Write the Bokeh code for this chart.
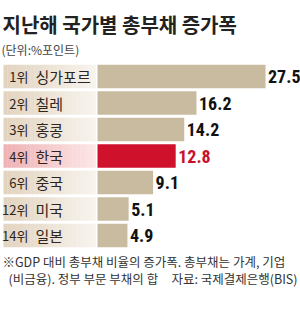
from bokeh.plotting import figure
from bokeh.models import Range1d, ColumnDataSource
from bokeh.core.properties import value
from bokeh.embed import file_html
from bokeh.resources import INLINE

# ---- data ----
ranks = ["1위", "2위", "3위", "4위", "6위", "12위", "14위"]
countries = ["싱가포르", "칠레", "홍콩", "한국", "중국", "미국", "일본"]
values = [27.5, 16.2, 14.2, 12.8, 9.1, 5.1, 4.9]
value_labels = ["27.5", "16.2", "14.2", "12.8", "9.1", "5.1", "4.9"]
highlight = "한국"

title_text = "지난해 국가별 총부채 증가폭"
subtitle_text = "(단위:%포인트)"
note_line1 = "※GDP 대비 총부채 비율의 증가폭. 총부채는 가계, 기업"
note_line2 = "(비금융). 정부 부문 부채의 합"
source_text = "자료: 국제결제은행(BIS)"

# ---- layout (pixels) ----
W, H = 300, 321
X0 = 97.0                 # pixel of value 0
SX = (265 - 97) / 27.5    # pixels per unit
Y0 = 76.0                 # pixel center of first row
SY = 26.5                 # row pitch

def dx(px):
    return (px - X0) / SX

def dy(py):
    return (py - Y0) / SY

KR = "Noto Sans CJK KR"
NUM = "'Roboto Condensed', 'DejaVu Sans'"

p = figure(width=W, height=H, output_backend="svg", toolbar_location=None,
           x_range=Range1d(dx(0), dx(W)), y_range=Range1d(dy(H), dy(0)),
           min_border=0, min_border_left=0, min_border_right=0,
           min_border_top=0, min_border_bottom=0)
p.axis.visible = False
p.grid.visible = False
p.outline_line_color = None
p.background_fill_color = "white"
p.border_fill_color = "white"

n = len(values)
idx = list(range(n))
is_hi = [c == highlight for c in countries]

# label cells with horizontal gradient (approximated by slices)
def mix(c1, c2, t):
    a = [int(c1[i:i + 2], 16) for i in (1, 3, 5)]
    b = [int(c2[i:i + 2], 16) for i in (1, 3, 5)]
    return "#%02x%02x%02x" % tuple(round(a[k] + (b[k] - a[k]) * t) for k in range(3))

beige = ("#e2d4bf", "#f7f3ed")
pink = ("#eeb3b5", "#fde5e5")
NS = 24
cell_l, cell_r = 3, 95
bh = 23.5 / SY
ql, qr, qb, qt, qc = [], [], [], [], []
for i in idx:
    cols = pink if is_hi[i] else beige
    for s in range(NS):
        x1 = cell_l + (cell_r - cell_l) * s / NS
        x2 = cell_l + (cell_r - cell_l) * (s + 1) / NS
        ql.append(dx(x1)); qr.append(dx(x2 + 0.3))
        qb.append(i - bh / 2); qt.append(i + bh / 2)
        qc.append(mix(cols[0], cols[1], s / (NS - 1)))
p.quad(left=ql, right=qr, bottom=qb, top=qt, fill_color=qc, line_color=None)

# bars
bar_colors = ["#d0112b" if h else "#c9bb9f" for h in is_hi]
src = ColumnDataSource(dict(y=idx, v=values, c=bar_colors, lab=value_labels,
                            lx=[v + 2.5 / SX for v in values],
                            tc=["#c8102e" if h else "#111111" for h in is_hi],
                            rank=ranks, name=countries,
                            rx=[dx(28)] * n, nx=[dx(35)] * n))
p.hbar(y="y", left=0, right="v", height=bh, fill_color="c", line_color=None, source=src)

# value labels
p.text(x="lx", y="y", text="lab", text_color="tc", text_font=value(NUM),
       text_font_style="bold", text_font_size="18px", text_baseline="middle",
       text_align="left", source=src)

# rank and country labels
p.text(x="rx", y="y", text="rank", text_color="#2e2520", text_font=value(KR),
       text_font_size="13px", text_baseline="middle", text_align="right", source=src)
p.text(x="nx", y="y", text="name", text_color="#2e2520", text_font=value(KR),
       text_font_size="15px", text_baseline="middle", text_align="left", source=src)

# title, subtitle, notes
p.text(x=[dx(2)], y=[dy(24)], text=[title_text], text_color="#222222",
       text_font=value(KR), text_font_style="bold", text_font_size="20px",
       text_baseline="middle", text_align="left")
p.text(x=[dx(1)], y=[dy(48.5)], text=[subtitle_text], text_color="#444444",
       text_font=value(KR), text_font_size="12px",
       text_baseline="middle", text_align="left")
p.text(x=[dx(2)], y=[dy(261)], text=[note_line1], text_color="#333333",
       text_font=value(KR), text_font_size="12.5px",
       text_baseline="middle", text_align="left")
p.text(x=[dx(8)], y=[dy(278)], text=[note_line2], text_color="#333333",
       text_font=value(KR), text_font_size="12.5px",
       text_baseline="middle", text_align="left")
p.text(x=[dx(297)], y=[dy(278)], text=[source_text], text_color="#333333",
       text_font=value(KR), text_font_size="12.5px",
       text_baseline="middle", text_align="right")

open("out.html", "w").write(file_html(p, INLINE))
